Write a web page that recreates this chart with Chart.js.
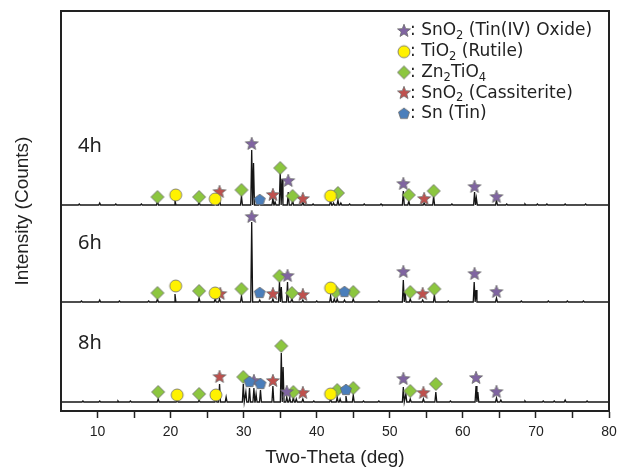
<!DOCTYPE html>
<html>
<head>
<meta charset="utf-8">
<script src="https://cdn.jsdelivr.net/npm/chart.js@4.4.1/dist/chart.umd.min.js"></script>
<style>
  html, body { margin: 0; padding: 0; background: #fff; }
  #wrap { width: 625px; height: 473px; }
</style>
</head>
<body>
<div id="wrap"><canvas id="xrd" width="625" height="473"></canvas></div>
<script>
// ---- values ----
const samples = ["4h", "6h", "8h"];

// phases, in legend order (key, name)
const phaseKeys = ["T", "R", "Z", "C", "S"];
const phaseNames = ["SnO2 (Tin(IV) Oxide)", "TiO2 (Rutile)", "Zn2TiO4", "SnO2 (Cassiterite)", "Sn (Tin)"];

const xTicks = [10, 20, 30, 40, 50, 60, 70, 80];
const xMinorTicks = [15, 25, 35, 45, 55, 65, 75];

// peaks: [2-theta, intensity above the trace baseline]
const peaks4h = [[7.5, 1], [10.3, 2], [12.5, 1], [16.0, 1], [18.2, 4], [20.6, 5], [23.9, 3], [26.1, 3],
  [26.7, 6], [29.7, 9], [31.1, 55], [31.35, 42], [32.2, 2], [34.0, 7], [34.3, 3], [35.0, 33], [35.25, 26],
  [36.1, 13], [36.7, 5], [38.1, 3], [39.5, 1], [41.9, 5], [42.3, 2], [42.9, 5], [43.3, 2], [44.5, 1],
  [46.5, 1], [48.8, 1], [51.85, 14], [52.6, 4], [54.7, 2], [56.0, 9], [58.5, 1], [61.6, 13], [61.85, 7],
  [64.6, 5], [66.0, 1], [68.5, 1], [70.2, 1], [71.5, 1], [74.0, 1], [76.8, 1]];
const peaks6h = [[7.8, 1], [10.3, 2], [13.0, 1], [17.0, 1], [18.2, 3], [20.6, 8], [23.9, 4], [26.1, 3],
  [26.7, 3], [29.7, 6], [31.1, 80], [32.2, 2], [34.0, 3], [34.9, 20], [35.15, 15], [36.0, 20], [36.6, 4],
  [38.1, 2], [40.0, 1], [41.9, 6], [42.4, 3], [42.8, 3], [43.8, 2], [45.0, 3], [48.5, 1], [51.85, 22],
  [52.1, 10], [52.8, 3], [54.5, 2], [56.1, 7], [58.0, 1], [61.55, 20], [61.8, 12], [64.6, 4], [68.0, 1],
  [71.7, 1], [74.3, 1], [76.5, 1]];
const peaks8h = [[8.0, 1], [10.3, 1], [12.8, 1], [14.5, 1], [18.3, 3], [20.9, 2], [23.9, 2], [26.2, 3],
  [26.7, 18], [27.6, 5], [29.95, 18], [30.3, 10], [30.8, 14], [31.4, 14], [31.7, 8], [32.3, 12], [34.0, 16],
  [35.15, 49], [35.4, 35], [35.9, 5], [36.3, 4], [36.8, 5], [37.2, 3], [38.1, 3], [39.6, 1], [41.9, 3],
  [42.8, 5], [43.2, 3], [44.0, 6], [45.0, 7], [46.4, 1], [48.5, 1], [51.85, 15], [52.2, 8], [52.8, 3],
  [54.6, 3], [56.3, 10], [58.3, 1], [61.8, 16], [62.05, 10], [64.6, 4], [65.2, 2], [68.5, 1], [71.0, 1],
  [72.5, 1], [74.0, 2], [77.0, 1]];

// phase markers: [phase key, 2-theta, height above the trace baseline]
const marks4h = [["Z", 18.2, 8], ["R", 20.7, 10], ["Z", 23.9, 8], ["R", 26.1, 6], ["C", 26.7, 13],
  ["Z", 29.7, 15], ["T", 31.1, 61], ["S", 32.2, 5], ["C", 34.0, 10], ["Z", 35.0, 37], ["T", 36.1, 24],
  ["Z", 36.7, 9], ["C", 38.1, 6], ["R", 41.9, 9], ["Z", 42.9, 12], ["T", 51.85, 21], ["Z", 52.6, 10],
  ["C", 54.7, 6], ["Z", 56.0, 14], ["T", 61.6, 18], ["T", 64.6, 8]];
const marks6h = [["Z", 18.2, 9], ["R", 20.7, 16], ["Z", 23.9, 11], ["R", 26.1, 9], ["C", 26.8, 8],
  ["Z", 29.7, 13], ["T", 31.1, 85], ["S", 32.2, 9], ["C", 34.0, 8], ["Z", 34.9, 26], ["T", 36.0, 26],
  ["Z", 36.6, 9], ["C", 38.1, 7], ["R", 41.9, 14], ["Z", 42.6, 10], ["S", 43.8, 10], ["Z", 45.0, 10],
  ["T", 51.85, 30], ["Z", 52.8, 10], ["C", 54.5, 8], ["Z", 56.1, 13], ["T", 61.6, 28], ["T", 64.6, 10]];
const marks8h = [["Z", 18.3, 10], ["R", 20.9, 7], ["Z", 23.9, 8], ["R", 26.2, 7], ["C", 26.7, 25],
  ["Z", 29.95, 25], ["S", 30.8, 20], ["T", 31.4, 21], ["S", 32.3, 18], ["C", 34.0, 21], ["Z", 35.15, 56],
  ["T", 35.9, 10], ["Z", 36.8, 10], ["C", 38.1, 9], ["R", 41.9, 8], ["Z", 42.8, 12], ["S", 44.0, 12],
  ["Z", 45.0, 14], ["T", 51.85, 23], ["Z", 52.8, 11], ["C", 54.6, 9], ["Z", 56.3, 18], ["T", 61.8, 24],
  ["T", 64.6, 10]];

// ---- drawing ----
const peakSets = [peaks4h, peaks6h, peaks8h];
const markSets = [marks4h, marks6h, marks8h];
const stackOffset = [206, 109, 9];   // vertical shift of each stacked trace

// marker looks, and draw order (lower = on top)
const markerLook = {
  T: { shape: "star", fill: "#8064a2", order: 2 },
  R: { shape: "circle", fill: "#fff200", order: 0 },
  Z: { shape: "diamond", fill: "#8cc63f", order: 3 },
  C: { shape: "star", fill: "#c0504d", order: 4 },
  S: { shape: "pentagon", fill: "#4a7ebb", order: 1 },
};

function makeMarker(shape, fill) {
  const c = document.createElement("canvas");
  c.width = c.height = 16;
  const g = c.getContext("2d");
  g.translate(8, 8);
  g.beginPath();
  if (shape === "star") {
    for (let i = 0; i < 10; i++) {
      const r = i % 2 ? 2.9 : 6.8;
      const a = -Math.PI / 2 + i * Math.PI / 5;
      g.lineTo(r * Math.cos(a), r * Math.sin(a));
    }
  } else if (shape === "circle") {
    g.arc(0, 0, 6, 0, Math.PI * 2);
  } else if (shape === "diamond") {
    g.moveTo(0, -6.5); g.lineTo(6.5, 0); g.lineTo(0, 6.5); g.lineTo(-6.5, 0);
  } else {
    for (let i = 0; i < 5; i++) {
      const a = -Math.PI / 2 + i * 2 * Math.PI / 5;
      g.lineTo(5.8 * Math.cos(a), 5.8 * Math.sin(a));
    }
  }
  g.closePath();
  g.fillStyle = fill;
  g.fill();
  g.lineWidth = 0.8;
  g.strokeStyle = "#6b6b6b";
  g.stroke();
  return c;
}

const markerImg = {};
phaseKeys.forEach(k => { markerImg[k] = makeMarker(markerLook[k].shape, markerLook[k].fill); });

// each peak as a narrow spike on the flat baseline
function traceOf(peaks, base) {
  const pts = [{ x: 5, y: base }];
  peaks.slice().sort((a, b) => a[0] - b[0]).forEach(([x, h]) => {
    pts.push({ x: x - 0.13, y: base }, { x: x, y: base + h }, { x: x + 0.13, y: base });
  });
  pts.push({ x: 80, y: base });
  return pts;
}

const datasets = [];
samples.forEach((s, i) => {
  datasets.push({
    label: s,
    data: traceOf(peakSets[i], stackOffset[i]),
    showLine: true,
    borderColor: "#151515",
    borderWidth: 1.3,
    pointRadius: 0,
    order: 10,
  });
});
phaseKeys.forEach((k, p) => {
  const pts = [];
  markSets.forEach((marks, i) => {
    marks.filter(m => m[0] === k).forEach(m => pts.push({ x: m[1], y: stackOffset[i] + m[2] }));
  });
  datasets.push({
    label: phaseNames[p],
    data: pts,
    pointStyle: markerImg[k],
    pointRadius: 6,
    order: markerLook[k].order,
  });
});

// text with digits as subscripts (SnO2 -> SnO₂)
function drawChem(ctx, text, x, y, size) {
  text.split(/(\d+)/).forEach((part, j) => {
    if (!part) return;
    const sub = j % 2 === 1;
    ctx.font = (sub ? size * 0.68 : size) + 'px "DejaVu Sans"';
    ctx.fillText(part, x, sub ? y + size * 0.3 : y);
    x += ctx.measureText(part).width;
  });
}

const framePlugin = {
  id: "frame",
  afterDraw(chart) {
    const { ctx, chartArea: a } = chart;
    ctx.save();
    ctx.strokeStyle = "#222";
    ctx.lineWidth = 2;
    ctx.strokeRect(a.left, a.top, a.right - a.left, a.bottom - a.top);

    // sample labels
    const ys = chart.scales.y;
    ctx.fillStyle = "#222";
    ctx.textBaseline = "middle";
    ctx.font = '20px "Noto Sans"';
    samples.forEach((s, i) => {
      ctx.fillText(s, a.left + 17, ys.getPixelForValue(stackOffset[i]) - 59);
    });

    // legend box inside the plot, top right
    phaseKeys.forEach((k, p) => {
      const y = a.top + 20 + p * 20.7;
      ctx.drawImage(markerImg[k], 396, y - 8);
      ctx.fillStyle = "#222";
      drawChem(ctx, ": " + phaseNames[p], 410, y, 17);
    });
    ctx.restore();
  },
};

new Chart(document.getElementById("xrd"), {
  type: "scatter",
  data: { datasets },
  plugins: [framePlugin],
  options: {
    responsive: false,
    animation: false,
    layout: { padding: { left: 8, right: 16, top: 11, bottom: 0 } },
    plugins: { legend: { display: false }, tooltip: { enabled: false } },
    scales: {
      x: {
        type: "linear",
        min: 5,
        max: 80,
        afterBuildTicks: scale => {
          scale.ticks = xTicks.concat(xMinorTicks).sort((a, b) => a - b).map(v => ({ value: v }));
        },
        ticks: {
          color: "#222",
          padding: 6,
          maxRotation: 0,
          font: { family: '"Liberation Sans", Arial, sans-serif', size: 14 },
          callback: v => (xTicks.includes(v) ? String(v) : ""),
        },
        grid: { drawOnChartArea: false, tickLength: 7, tickWidth: 1.5, tickColor: "#222" },
        border: { color: "#222", width: 2 },
        title: {
          display: true,
          text: "Two-Theta (deg)",
          color: "#222",
          font: { family: '"Liberation Sans", Arial, sans-serif', size: 19 },
          padding: { top: 2, bottom: 4 },
        },
        afterFit: scale => { scale.height = 62; },
      },
      y: {
        min: 0,
        max: 400,
        ticks: { display: false },
        grid: { display: false },
        border: { color: "#222", width: 2 },
        title: {
          display: true,
          text: "Intensity (Counts)",
          color: "#222",
          font: { family: '"Liberation Sans", Arial, sans-serif', size: 19 },
          padding: { top: 3, bottom: 0 },
        },
        afterFit: scale => { scale.width = 53; },
      },
    },
  },
});
</script>
</body>
</html>
